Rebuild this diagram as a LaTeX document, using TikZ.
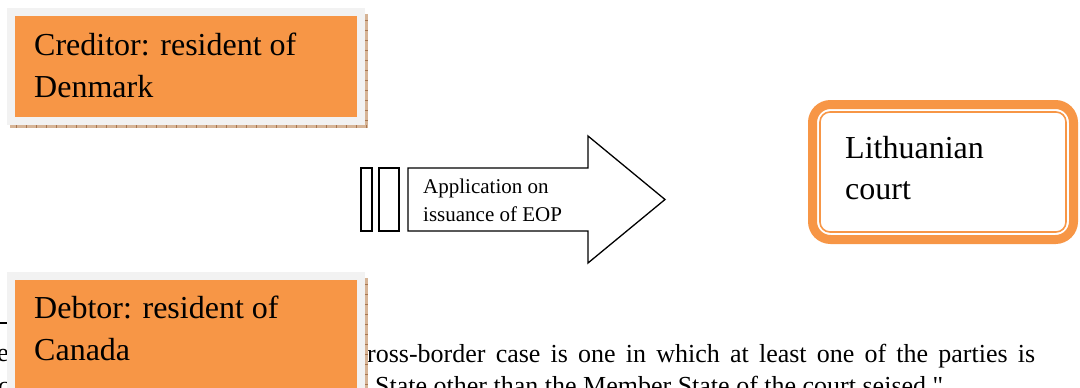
\documentclass[tikz,border=0pt]{standalone}
\usepackage{fontspec}
\setmainfont{Liberation Serif}
\newfontfamily\straightquote{Liberation Serif}[Ligatures=TeXOff]
\definecolor{accent}{HTML}{F79646}
\definecolor{framegrey}{HTML}{F2F2F2}
\definecolor{shadowtan}{HTML}{D6B496}
\definecolor{shadowtick}{HTML}{A87650}

\begin{document}
\begin{tikzpicture}[x=1pt,y=-1pt,
  bigtext/.style={font=\fontsize{32}{41}\selectfont, anchor=base west, inner sep=0pt},
  arrowtext/.style={font=\fontsize{21}{28}\selectfont, anchor=base west, inner sep=0pt},
  notetext/.style={font=\fontsize{26}{31}\selectfont, anchor=base west, inner sep=0pt},
  partybox/.style={fill=accent, anchor=north west, inner sep=0pt, minimum width=342pt},
  outline/.style={draw=black, line width=1.3pt, fill=white},
]
\useasboundingbox (0,0) rectangle (1080,388);
\clip (0,0) rectangle (1080,388);

% footnote rule and the visible parts of the footnote
\draw[line width=2pt] (0,323) -- (60,323);
\node[notetext] (note1a) at (-3,361) {e};
\node[notetext] (note1b) at (367,362) {\makebox[668pt][s]{ross-border case is one in which at least one of the parties is}};
\node[notetext] (note2a) at (-2,394) {c};
\node[notetext] (note2b) at (375,394) {State other than the Member State of the court seised.{\straightquote"}};

% creditor box: shadow, grey frame, orange panel
\fill[shadowtan] (10,14) rectangle (368,128);
\foreach \y in {20,30,...,120} \draw[shadowtick, line width=0.6pt] (365,\y) -- (368,\y);
\foreach \x in {16,26,...,366} \draw[shadowtick, line width=0.6pt] (\x,125) -- (\x,128);
\fill[framegrey] (7,8) rectangle (365,125);
\node[partybox, minimum height=101pt] (creditor) at (15,16) {};
\node[bigtext] (cred1) at (34,56) {Creditor: resident of};
\node[bigtext] (cred2) at (34,97) {Denmark};

% debtor box
\fill[shadowtan] (10,278) rectangle (368,400);
\foreach \y in {284,294,...,394} \draw[shadowtick, line width=0.6pt] (365,\y) -- (368,\y);
\fill[framegrey] (7,272) rectangle (365,400);
\node[partybox, minimum height=120pt] (debtor) at (15,280) {};
\node[bigtext] (debt1) at (34,318) {Debtor: resident of};
\node[bigtext] (debt2) at (34,360) {Canada};

% block arrow with two strips at its tail
\draw[outline] (361,168) rectangle (372,231);
\draw[outline] (379,168) rectangle (399,231);
\draw[outline] (408,168) -- (588,168) -- (588,136) -- (665,199.5) -- (588,263) -- (588,231) -- (408,231) -- cycle;
\node[arrowtext] (app1) at (423,193) {Application on};
\node[arrowtext] (app2) at (423,221) {issuance of EOP};

% court box with double orange frame
\node[draw=accent, line width=9pt, rounded corners=18pt, minimum width=261pt, minimum height=135pt, inner sep=0pt] (court) at (943,172) {};
\draw[accent, line width=1.6pt, rounded corners=10pt] (820,112) rectangle (1066,232);
\node[bigtext] (court1) at (845,158) {Lithuanian};
\node[bigtext] (court2) at (845,199) {court};
\end{tikzpicture}
\end{document}
